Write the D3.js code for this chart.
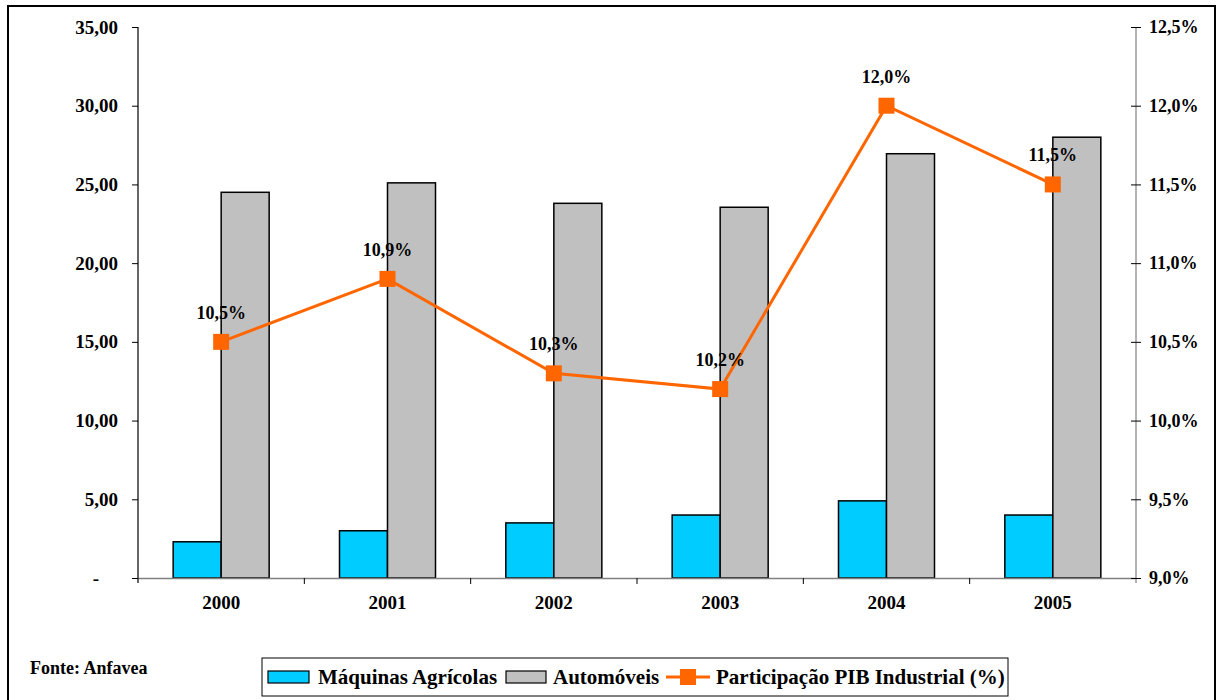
<!DOCTYPE html>
<html>
<head>
<meta charset="utf-8">
<script src="https://cdn.jsdelivr.net/npm/d3@7"></script>
<style>
  html, body { margin: 0; padding: 0; background: #fff; }
  svg { display: block; }
</style>
</head>
<body>
<svg id="chart" width="1218" height="700"></svg>
<script>
// Data
const years = ["2000", "2001", "2002", "2003", "2004", "2005"];
const maquinas = [2.3, 3.0, 3.5, 4.0, 4.9, 4.0];
const automoveis = [24.5, 25.1, 23.8, 23.55, 26.95, 28.0];
const pibShare = [10.5, 10.9, 10.3, 10.2, 12.0, 11.5];
const leftTicks = [0, 5, 10, 15, 20, 25, 30, 35];
const rightTicks = [9.0, 9.5, 10.0, 10.5, 11.0, 11.5, 12.0, 12.5];
const seriesNames = ["Máquinas Agrícolas", "Automóveis", "Participação PIB Industrial (%)"];
const sourceNote = "Fonte: Anfavea";

const colors = { maq: "#00CCFF", auto: "#C0C0C0", line: "#FF6600" };
const FONT = '"Liberation Serif"';

// Apply the chart's serif bold face to a text selection
function serif(sel, size) {
  return sel.attr("font-family", null)
    .style("font-family", FONT).style("font-weight", "bold")
    .style("font-size", size + "px").style("fill", "#000");
}

const svg = d3.select("#chart");
const plot = { left: 138, right: 1136, top: 27, bottom: 578 };

const x = d3.scaleBand().domain(years).range([plot.left, plot.right]).paddingInner(0).paddingOuter(0);
const yL = d3.scaleLinear().domain([0, 35]).range([plot.bottom, plot.top]);
const yR = d3.scaleLinear().domain([9.0, 12.5]).range([plot.bottom, plot.top]);

const fmtComma = (v, d) => v.toFixed(d).replace(".", ",");

// Outer frame
svg.append("rect")
  .attr("x", 8).attr("y", 6).attr("width", 1207).attr("height", 700)
  .attr("fill", "none").attr("stroke", "#000").attr("stroke-width", 2);

// Bars
const barW = 48;
const g = svg.append("g");
g.selectAll("rect.maq").data(years).join("rect")
  .attr("class", "maq")
  .attr("x", d => x(d) + x.bandwidth() / 2 - barW)
  .attr("y", (d, i) => yL(maquinas[i]))
  .attr("width", barW)
  .attr("height", (d, i) => yL(0) - yL(maquinas[i]))
  .attr("fill", colors.maq).attr("stroke", "#000").attr("stroke-width", 1.5);

g.selectAll("rect.auto").data(years).join("rect")
  .attr("class", "auto")
  .attr("x", d => x(d) + x.bandwidth() / 2)
  .attr("y", (d, i) => yL(automoveis[i]))
  .attr("width", barW)
  .attr("height", (d, i) => yL(0) - yL(automoveis[i]))
  .attr("fill", colors.auto).attr("stroke", "#000").attr("stroke-width", 1.5);

// Category axis (baseline with ticks between categories)
const xAxis = d3.axisBottom(x).tickSize(0).tickPadding(18).tickFormat(d => d);
const xg = svg.append("g").attr("transform", `translate(0,${plot.bottom})`).call(xAxis)
  .attr("font-family", null).attr("font-size", null);
xg.select(".domain").attr("stroke", "#808080").attr("stroke-width", 1.5);
serif(xg.selectAll("text"), 19);
const bounds = d3.range(years.length + 1).map(i => plot.left + i * x.bandwidth());
svg.append("g").selectAll("line").data(bounds.slice(1, -1)).join("line")
  .attr("x1", d => d).attr("x2", d => d)
  .attr("y1", plot.bottom).attr("y2", plot.bottom + 6)
  .attr("stroke", "#000").attr("stroke-width", 1);

// Left axis
const leftAxis = d3.axisLeft(yL).tickValues(leftTicks).tickSize(6).tickPadding(14)
  .tickFormat(d => d === 0 ? "-" : fmtComma(d, 2));
const lg = svg.append("g").attr("transform", `translate(${plot.left},0)`).call(leftAxis)
  .attr("font-family", null).attr("font-size", null);
lg.select(".domain").attr("stroke", "#000").attr("stroke-width", 1.2).attr("d", `M0,${plot.top}V${plot.bottom + 5}`);
lg.selectAll(".tick line").attr("stroke", "#000");
serif(lg.selectAll("text"), 19);
lg.selectAll(".tick").filter(d => d === 0).select("text").attr("dx", -19);

// Right axis
const rightAxis = d3.axisRight(yR).tickValues(rightTicks).tickSize(5).tickPadding(8)
  .tickFormat(d => fmtComma(d, 1) + "%");
const rg = svg.append("g").attr("transform", `translate(${plot.right},0)`).call(rightAxis)
  .attr("font-family", null).attr("font-size", null);
rg.select(".domain").attr("stroke", "#808080").attr("stroke-width", 1.2).attr("d", `M0,${plot.top}V${plot.bottom + 5}`);
rg.selectAll(".tick line").attr("stroke", "#000").attr("x1", -5);
serif(rg.selectAll("text"), 18);

// Line series
const cx = d => x(d) + x.bandwidth() / 2;
const line = d3.line().x((d, i) => cx(years[i])).y(d => yR(d));
svg.append("path").datum(pibShare)
  .attr("d", line).attr("fill", "none")
  .attr("stroke", colors.line).attr("stroke-width", 3);

const mk = 16;
svg.append("g").selectAll("rect").data(pibShare).join("rect")
  .attr("x", (d, i) => cx(years[i]) - mk / 2)
  .attr("y", d => yR(d) - mk / 2)
  .attr("width", mk).attr("height", mk)
  .attr("fill", colors.line);

serif(svg.append("g").selectAll("text").data(pibShare).join("text")
  .attr("x", (d, i) => cx(years[i]))
  .attr("y", d => yR(d) - 23)
  .attr("text-anchor", "middle")
  .text(d => fmtComma(d, 1) + "%"), 18);

// Source note
serif(svg.append("text").attr("x", 30).attr("y", 674).text(sourceNote), 18);

// Legend
const leg = svg.append("g");
leg.append("rect").attr("x", 262).attr("y", 658).attr("width", 746).attr("height", 38)
  .attr("fill", "#fff").attr("stroke", "#000").attr("stroke-width", 1);

const legY = 677;
leg.append("rect").attr("x", 268).attr("y", legY - 6).attr("width", 41).attr("height", 12)
  .attr("fill", colors.maq).attr("stroke", "#000").attr("stroke-width", 1.2);
serif(leg.append("text").attr("x", 318).attr("y", legY + 7).text(seriesNames[0]), 21);

leg.append("rect").attr("x", 506).attr("y", legY - 6).attr("width", 40).attr("height", 12)
  .attr("fill", colors.auto).attr("stroke", "#000").attr("stroke-width", 1.2);
serif(leg.append("text").attr("x", 553).attr("y", legY + 7).text(seriesNames[1]), 21);

leg.append("line").attr("x1", 666).attr("x2", 710).attr("y1", legY).attr("y2", legY)
  .attr("stroke", colors.line).attr("stroke-width", 3);
leg.append("rect").attr("x", 680).attr("y", legY - 8).attr("width", 16).attr("height", 16)
  .attr("fill", colors.line);
serif(leg.append("text").attr("x", 716).attr("y", legY + 7).text(seriesNames[2]), 21);
</script>
</body>
</html>
